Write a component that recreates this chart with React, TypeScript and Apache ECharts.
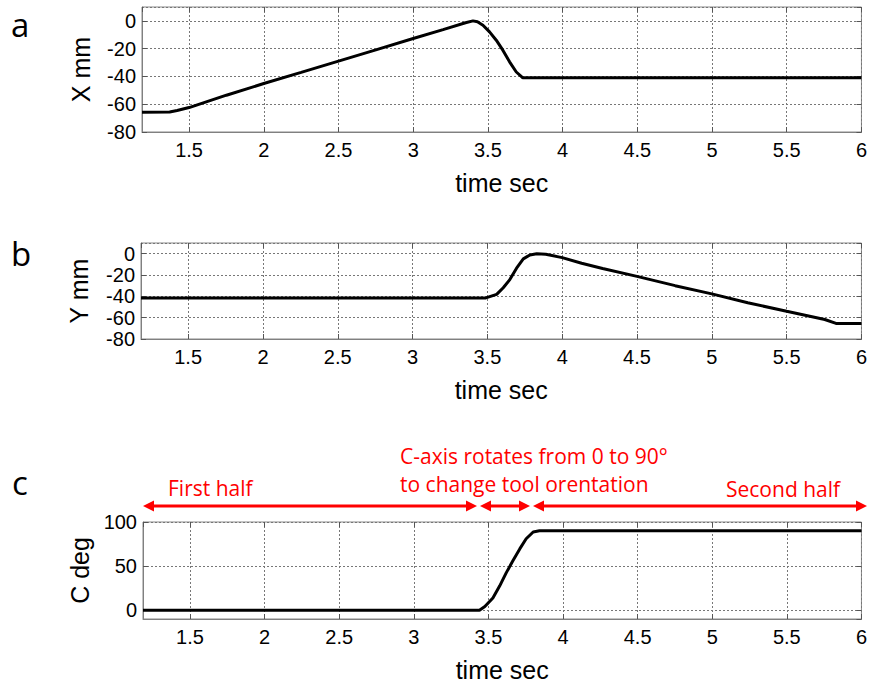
import React, { useEffect, useRef } from "react";
import * as echarts from "echarts";

// Panel a: X position
const timeA = [1.185, 1.37, 1.42, 1.5, 1.75, 2.0, 2.25, 2.5, 2.75, 3.0, 3.2, 3.35, 3.4, 3.43, 3.467, 3.511, 3.556, 3.6, 3.645, 3.69, 3.734, 6.0];
const valuesA = [-65.8, -65.6, -64.5, -62.4, -53.5, -45.1, -37.1, -29.0, -20.9, -12.7, -6.3, -1.3, 0, -0.6, -3.1, -7.9, -13.9, -21.1, -29.5, -36.8, -41, -41];

// Panel b: Y position
const timeB = [1.185, 3.49, 3.562, 3.606, 3.65, 3.695, 3.74, 3.784, 3.83, 3.89, 4.0, 4.13, 4.27, 4.5, 4.755, 5.0, 5.24, 5.5, 5.755, 5.83, 6.0];
const valuesB = [-41.5, -41.5, -38.2, -32, -24.3, -13.6, -4.9, -1.2, 0, -0.6, -3.7, -9, -13.9, -21.3, -30, -37.7, -46, -54, -61.7, -65.4, -65.4];

// Panel c: C rotation
const timeC = [1.185, 3.44, 3.476, 3.53, 3.575, 3.62, 3.664, 3.71, 3.753, 3.8, 3.842, 6.0];
const valuesC = [0, 0, 4.2, 13.8, 27.3, 42.6, 56, 69.5, 81, 88.7, 90, 90];

const timeMin = 1.185;
const timeMax = 6;
const yNames = ["X mm", "Y mm", "C deg"];
const panelLetters = ["a", "b", "c"];

const zip = (t: number[], v: number[]) => t.map((x, i) => [x, v[i]]);

const TICK_FONT = "Liberation Sans, Arial, sans-serif";
const NOTE_FONT = "Open Sans, Noto Sans, sans-serif";

export default function App() {
  const ref = useRef<HTMLDivElement>(null);

  useEffect(() => {
    if (!ref.current) return;
    const chart = echarts.init(ref.current, null, { renderer: "svg" });

    const grids = [
      { left: 142, top: 7, width: 721, height: 125 },
      { left: 141, top: 243, width: 722, height: 96 },
      { left: 143, top: 522, width: 719, height: 97 },
    ];
    const yRanges = [
      { min: -80, max: 10, splitNumber: 5, showMin: true, showMax: false },
      { min: -80, max: 10, splitNumber: 5, showMin: true, showMax: false },
      { min: -10, max: 100, splitNumber: 2, showMin: false, showMax: true },
    ];
    const nameGaps = [49, 50, 51];

    const xAxis: any[] = [];
    const yAxis: any[] = [];
    grids.forEach((g, i) => {
      xAxis.push({
        type: "value",
        gridIndex: i,
        position: "bottom",
        min: timeMin,
        max: timeMax,
        splitNumber: 10,
        axisLine: { show: true, onZero: false, lineStyle: { color: "#808080", width: 1 } },
        axisTick: { show: true, inside: true, length: 5, lineStyle: { color: "#555" } },
        axisLabel: { showMinLabel: false, color: "#000", fontSize: 20, fontFamily: TICK_FONT, margin: 8 },
        splitLine: { show: true, lineStyle: { color: "#777", type: [2, 2], width: 1 } },
        name: "time sec",
        nameLocation: "middle",
        nameGap: 38,
        nameTextStyle: { fontSize: 25, color: "#000", fontFamily: TICK_FONT },
      });
      xAxis.push({
        type: "value",
        gridIndex: i,
        position: "top",
        min: timeMin,
        max: timeMax,
        splitNumber: 10,
        axisLine: { show: false, onZero: false },
        axisTick: { show: true, inside: true, length: 5, lineStyle: { color: "#555" } },
        axisLabel: { show: false },
        splitLine: { show: false },
      });
      const r = yRanges[i];
      yAxis.push({
        type: "value",
        gridIndex: i,
        position: "left",
        min: r.min,
        max: r.max,
        splitNumber: r.splitNumber,
        axisLine: { show: true, onZero: false, lineStyle: { color: "#808080", width: 1 } },
        axisTick: { show: true, inside: true, length: 5, lineStyle: { color: "#555" } },
        axisLabel: {
          showMinLabel: r.showMin,
          showMaxLabel: r.showMax,
          color: "#000",
          fontSize: 20,
          fontFamily: TICK_FONT,
          margin: 6,
        },
        splitLine: { show: true, lineStyle: { color: "#777", type: [2, 2], width: 1 } },
        name: yNames[i],
        nameLocation: "middle",
        nameGap: nameGaps[i],
        nameTextStyle: { fontSize: 25, color: "#000", fontFamily: TICK_FONT },
      });
      yAxis.push({
        type: "value",
        gridIndex: i,
        position: "right",
        min: r.min,
        max: r.max,
        splitNumber: r.splitNumber,
        axisLine: { show: false, onZero: false },
        axisTick: { show: true, inside: true, length: 5, lineStyle: { color: "#555" } },
        axisLabel: { show: false },
        splitLine: { show: false },
      });
    });

    const seriesData = [zip(timeA, valuesA), zip(timeB, valuesB), zip(timeC, valuesC)];
    const series = seriesData.map((d, i) => ({
      type: "line",
      xAxisIndex: i * 2,
      yAxisIndex: i * 2,
      data: d,
      symbol: "none",
      showSymbol: false,
      lineStyle: { color: "#000", width: 3 },
      z: 5,
    }));

    const red = "#ff0000";
    const arrowY = 506;
    const headLen = 11;
    const headHalf = 5.5;
    const arrow = (x1: number, x2: number) => [
      { type: "line", shape: { x1: x1 + headLen - 1, y1: arrowY, x2: x2 - headLen + 1, y2: arrowY }, style: { stroke: red, lineWidth: 3 } },
      { type: "polygon", shape: { points: [[x1, arrowY], [x1 + headLen, arrowY - headHalf], [x1 + headLen, arrowY + headHalf]] }, style: { fill: red } },
      { type: "polygon", shape: { points: [[x2, arrowY], [x2 - headLen, arrowY - headHalf], [x2 - headLen, arrowY + headHalf]] }, style: { fill: red } },
    ];
    const note = (text: string, x: number, y: number) => ({
      type: "text",
      x,
      y,
      style: { text, fill: red, font: `21px ${NOTE_FONT}`, verticalAlign: "middle", align: "left" },
    });
    const letter = (text: string, x: number, y: number) => ({
      type: "text",
      x,
      y,
      style: { text, fill: "#000", font: `33px ${NOTE_FONT}`, verticalAlign: "middle", align: "left" },
    });

    const graphic = [
      letter(panelLetters[0], 11, 24),
      letter(panelLetters[1], 11, 253),
      letter(panelLetters[2], 12, 482),
      note("First half", 168, 488),
      note("C-axis rotates from 0 to 90\u00b0", 400, 456),
      note("to change tool orentation", 400, 484),
      note("Second half", 726, 489),
      ...arrow(143, 477),
      ...arrow(480, 530),
      ...arrow(533, 867),
    ];

    chart.setOption({
      animation: false,
      backgroundColor: "#fff",
      grid: grids.map((g) => ({ ...g, show: true, borderColor: "#888", borderWidth: 1, backgroundColor: "#fff", containLabel: false })),
      xAxis,
      yAxis,
      series,
      graphic,
    });

    return () => chart.dispose();
  }, []);

  return (
    <div
      ref={ref}
      style={{ position: "absolute", left: 0, top: 0, width: 870, height: 684, background: "#fff" }}
    />
  );
}
